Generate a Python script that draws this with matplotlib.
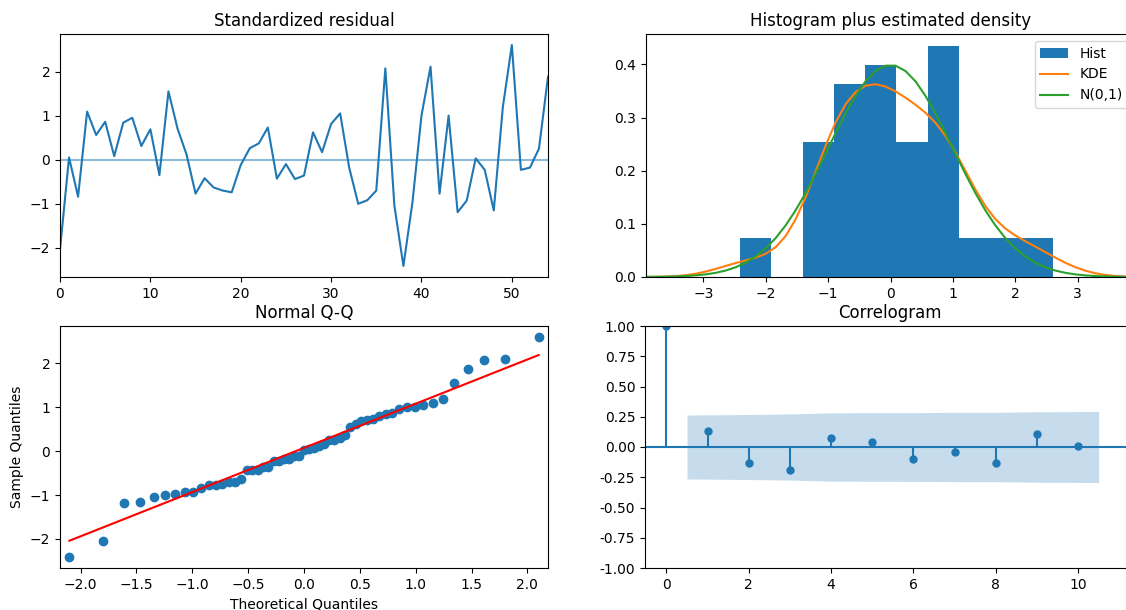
import math
import numpy as np
import matplotlib
matplotlib.use("Agg")
import matplotlib.pyplot as plt

# ---- data ----
resid = [-2.04, 0.05, -0.84, 1.09, 0.56, 0.86, 0.08, 0.84, 0.95, 0.31,
         0.69, -0.35, 1.55, 0.71, 0.12, -0.77, -0.42, -0.63, -0.70, -0.74,
         -0.12, 0.26, 0.37, 0.73, -0.43, -0.10, -0.44, -0.36, 0.62, 0.17,
         0.81, 1.05, -0.18, -1.00, -0.92, -0.70, 2.07, -1.04, -2.41, -0.97,
         1.00, 2.11, -0.77, 1.00, -1.19, -0.93, 0.03, -0.23, -1.15, 1.19,
         2.60, -0.23, -0.18, 0.25, 1.88]
acf_lags = [0, 1, 2, 3, 4, 5, 6, 7, 8, 9, 10]
acf_vals = [1.0, 0.13, -0.133, -0.19, 0.072, 0.039, -0.10, -0.042, -0.133, 0.106, 0.008]

resid = np.array(resid)
n = len(resid)
idx = np.arange(n)

def norm_cdf(x):
    return 0.5 * (1 + math.erf(x / math.sqrt(2)))

def norm_ppf(p):
    lo, hi = -10.0, 10.0
    for _ in range(100):
        mid = 0.5 * (lo + hi)
        if norm_cdf(mid) < p:
            lo = mid
        else:
            hi = mid
    return 0.5 * (lo + hi)

def norm_pdf(x):
    return np.exp(-x ** 2 / 2) / np.sqrt(2 * np.pi)

fig = plt.figure(figsize=(11.26, 6.10), dpi=100)
W, H = 1126, 610
def pos(l, t, r, b):
    return [l / W, 1 - b / H, (r - l) / W, (b - t) / H]

ax1 = fig.add_axes(pos(60, 34, 548, 277))
ax2 = fig.add_axes(pos(646, 34, 1135, 277))
ax3 = fig.add_axes(pos(60, 326, 548, 568))
ax4 = fig.add_axes(pos(645, 326, 1134, 568))

# Standardized residual
ax1.plot(idx, resid, color="C0")
ax1.hlines(0, idx[0], idx[-1], alpha=0.5, color="C0")
ax1.set_xlim(idx[0], idx[-1])
ax1.set_title("Standardized residual")

# Histogram plus estimated density
ax2.hist(resid, density=True, label="Hist", color="C0")
std = np.std(resid, ddof=1)
q75, q25 = np.percentile(resid, [75, 25])
A = min(std, (q75 - q25) / 1.349)
bw = 1.059 * A * n ** (-0.2)
xlim = (-1.96 * 2, 1.96 * 2)
xg = np.linspace(xlim[0], xlim[1], 50)
kde = norm_pdf((xg[:, None] - resid[None, :]) / bw).sum(axis=1) / (n * bw)
ax2.plot(xg, kde, label="KDE", color="C1")
ax2.plot(xg, norm_pdf(xg), label="N(0,1)", color="C2")
ax2.set_xlim(xlim)
ax2.legend(loc="upper right")
ax2.set_title("Histogram plus estimated density")

# Normal Q-Q
theo = np.array([norm_ppf(i / (n + 1)) for i in range(1, n + 1)])
samp = np.sort(resid)
ax3.plot(theo, samp, marker="o", linestyle="none", color="C0", markersize=6)
ax3.plot(theo, theo * np.std(samp, ddof=1) + np.mean(samp), "r-")
ax3.set_xmargin(0.02)
ax3.autoscale_view()
ax3.set_xlabel("Theoretical Quantiles")
ax3.set_ylabel("Sample Quantiles")
ax3.set_title("Normal Q-Q")

# Correlogram
acf_arr = np.array(acf_vals)
lags = np.array(acf_lags, dtype=float)
se = np.sqrt((1 + 2 * np.concatenate([[0], np.cumsum(acf_arr[1:-1] ** 2)])) / n)
band = 1.959964 * se
flags = lags[1:].copy()
flags[0] -= 0.5
flags[-1] += 0.5
ax4.fill_between(flags, -band, band, alpha=0.25, color="C0", linewidth=0)
ax4.axhline(0, color="C0")
ax4.vlines(lags, 0, acf_arr, color="C0")
ax4.plot(lags, acf_arr, marker="o", linestyle="none", markersize=5, color="C0")
ax4.set_ylim(-1, 1)
ax4.set_xlim(-0.52, 11.36)
ax4.yaxis.set_major_formatter(matplotlib.ticker.FormatStrFormatter("%.2f"))
ax4.set_title("Correlogram")

fig.savefig("out.png", dpi=100)
